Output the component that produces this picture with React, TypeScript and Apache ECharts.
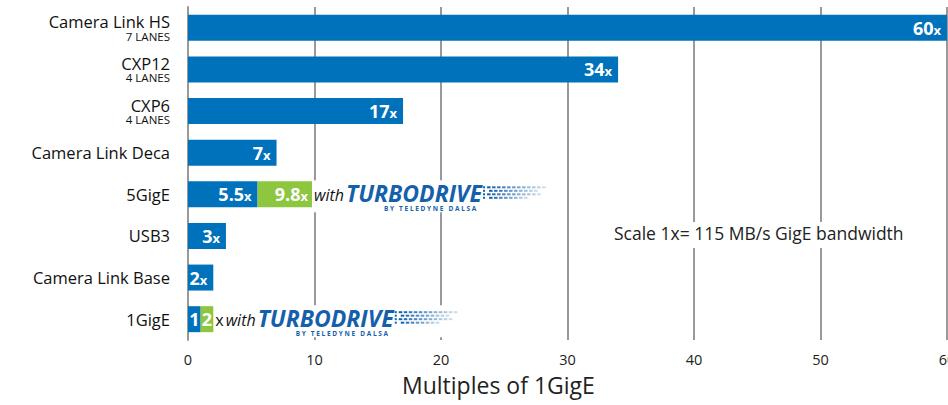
import React, { useEffect, useRef } from "react";
import * as echarts from "echarts";

const categories = ["Camera Link HS", "CXP12", "CXP6", "Camera Link Deca", "5GigE", "USB3", "Camera Link Base", "1GigE"];
const lanes = ["7 LANES", "4 LANES", "4 LANES", "", "", "", "", ""];
const baseValues = [60, 34, 17, 7, 5.5, 3, 2, 1];
const baseSuffix = ["x", "x", "x", "x", "x", "x", "x", ""];
const turboTotals: (number | null)[] = [null, null, null, null, 9.8, null, null, 2];
const turboSuffix = ["", "", "", "", "x", "", "", ""];
const logoRows = ["5GigE", "1GigE"];
const logoAt = [9.8, 2];
const logoPrefix = ["", "x"];
const xTicks = { min: 0, max: 60, interval: 10 };
const scaleNote = "Scale 1x= 115 MB/s GigE bandwidth";
const xTitle = "Multiples of 1GigE";

const BLUE = "#0072BC";
const GREEN = "#8DC63F";
const LOGO = "#1560AC";
const FONT = '"Open Sans", "Noto Sans", sans-serif';

let measureCtx: CanvasRenderingContext2D | null = null;
function measure(text: string, font: string) {
  if (!measureCtx) measureCtx = document.createElement("canvas").getContext("2d");
  measureCtx!.font = font;
  return measureCtx!.measureText(text).width;
}

export default function App() {
  const ref = useRef<HTMLDivElement>(null);
  useEffect(() => {
    const chart = echarts.init(ref.current!, null, { renderer: "svg" });
    const numRich = {
      n: { fontFamily: FONT, fontWeight: "bold", fontSize: 18, color: "#fff" },
      x: { fontFamily: FONT, fontWeight: "bold", fontSize: 13, color: "#fff", padding: [4, 0, 0, 0] },
    };
    const fontPrefix = `16px ${FONT}`;
    const fontWith = `italic 16px ${FONT}`;
    const fontTurbo = `italic bold 23px ${FONT}`;
    const fontBy = `bold 6.5px ${FONT}`;
    const byText = "B Y   T E L E D Y N E   D A L S A";

    chart.setOption({
      animation: false,
      grid: { left: 188, right: 1, top: 7, bottom: 65, containLabel: false, outerBoundsMode: "none" },
      xAxis: {
        type: "value",
        min: xTicks.min,
        max: xTicks.max,
        interval: xTicks.interval,
        axisLine: { show: false },
        axisTick: { show: false },
        splitLine: { show: true, lineStyle: { color: "#999", width: 2 } },
        axisLabel: { fontFamily: FONT, fontSize: 14.5, color: "#222", margin: 12, hideOverlap: false },
      },
      yAxis: {
        type: "category",
        data: categories,
        inverse: true,
        axisLine: { show: true, lineStyle: { color: "#999", width: 2 } },
        axisTick: { show: false },
        splitLine: { show: false },
        axisLabel: {
          margin: 18,
          formatter: (v: string, i: number) =>
            lanes[i] ? `{a|${v}}\n{b|${lanes[i]}}` : `{a|${v}}`,
          rich: {
            a: { fontFamily: FONT, fontSize: 16.5, color: "#111", lineHeight: 17, align: "right" },
            b: { fontFamily: FONT, fontSize: 11.5, color: "#111", lineHeight: 12, align: "right" },
          },
        },
      },
      series: [
        {
          type: "bar",
          stack: "s",
          barWidth: 26,
          itemStyle: { color: BLUE },
          data: baseValues.map((v, i) => ({
            value: v,
            label: baseSuffix[i] ? {} : { position: "inside", distance: 0 },
          })),
          label: {
            show: true,
            position: "insideRight",
            distance: 6,
            formatter: (p: any) => `{n|${baseValues[p.dataIndex]}}{x|${baseSuffix[p.dataIndex]}}`,
            rich: numRich,
          },
          z: 3,
        },
        {
          type: "bar",
          stack: "s",
          barWidth: 26,
          itemStyle: { color: GREEN },
          data: turboTotals.map((t, i) =>
            t == null
              ? null
              : {
                  value: +(t - baseValues[i]).toFixed(2),
                  label: turboSuffix[i] ? {} : { position: "inside", distance: 0 },
                }
          ),
          label: {
            show: true,
            position: "insideRight",
            distance: 4,
            formatter: (p: any) => `{n|${turboTotals[p.dataIndex]}}{x|${turboSuffix[p.dataIndex]}}`,
            rich: numRich,
          },
          z: 3,
        },
        {
          type: "custom",
          coordinateSystem: "cartesian2d",
          encode: { x: 0, y: 1 },
          data: logoRows.map((r, i) => [logoAt[i], categories.indexOf(r)]),
          z: 4,
          silent: true,
          renderItem: (params: any, api: any) => {
            const idx = params.dataIndex;
            const p = api.coord([api.value(0), api.value(1)]);
            let x = p[0] + 2;
            const yc = p[1];
            const parts: any[] = [];
            const start = x;
            const prefix = logoPrefix[idx];
            if (prefix) {
              parts.push({ type: "text", style: { text: prefix, x, y: yc + 1, font: fontPrefix, fill: "#111", verticalAlign: "middle" } });
              x += measure(prefix, fontPrefix) + 2;
            }
            parts.push({ type: "text", style: { text: "with", x, y: yc + 1, font: fontWith, fill: "#111", verticalAlign: "middle" } });
            x += measure("with", fontWith) + 2;
            const turboX = x;
            parts.push({ type: "text", style: { text: "TURBODRIVE", x, y: yc - 1.5, font: fontTurbo, fill: LOGO, verticalAlign: "middle" } });
            x += measure("TURBODRIVE", fontTurbo) + 1;
            const rowsY = [-8, -4.5, -1, 2.5];
            const rowLen = [62, 50, 56, 40];
            rowsY.forEach((dy, r) => {
              parts.push({ type: "rect", shape: { x: x, y: yc + dy, width: 2, height: 2 }, style: { fill: LOGO } });
              const n = Math.floor(rowLen[r] / 5);
              for (let k = 0; k < n; k++) {
                const op = 1 - (k / n) * 0.85;
                parts.push({
                  type: "rect",
                  shape: { x: x + 4 + k * 5 + (r % 2) * 2, y: yc + dy, width: 3.5, height: 2 },
                  style: { fill: LOGO, opacity: op },
                });
              }
            });
            parts.push({ type: "text", style: { text: byText, x: turboX + 38, y: yc + 14.5, font: fontBy, fill: LOGO, verticalAlign: "middle" } });
            const end = x + 68;
            const bg = { type: "rect", shape: { x: start - 1, y: yc - 14, width: end - start + 1, height: 32 }, style: { fill: "#fff" } };
            return { type: "group", children: [bg].concat(parts) };
          },
        },
      ],
      graphic: [
        { type: "rect", left: 610, top: 222, shape: { width: 300, height: 26 }, style: { fill: "#fff" }, z: 10 },
        { type: "text", left: 614, top: 224, style: { text: scaleNote, font: `17.5px ${FONT}`, fill: "#222" }, z: 11 },
        { type: "text", left: 402, top: 373, style: { text: xTitle, font: `23px ${FONT}`, fill: "#222" }, z: 11 },
      ],
    });
    return () => chart.dispose();
  }, []);
  return <div ref={ref} style={{ position: "fixed", left: 0, top: 0, width: 948, height: 405, background: "#fff" }} />;
}
